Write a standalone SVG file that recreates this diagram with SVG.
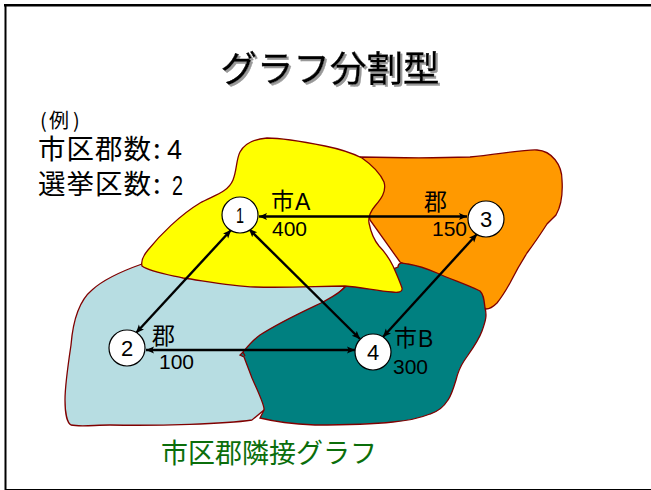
<svg xmlns="http://www.w3.org/2000/svg" width="651" height="490" viewBox="0 0 651 490">
<style>
text{font-family:"Noto Sans CJK JP","Liberation Sans",sans-serif;fill:#000}
.lat{font-family:"Liberation Sans","Noto Sans CJK JP",sans-serif}
.region{stroke:#800000;stroke-width:1.3}
.edge{stroke:#000;stroke-width:2.4;fill:none;marker-start:url(#ah);marker-end:url(#ah)}
.node circle{fill:#fff;stroke:#000;stroke-width:1.2}
.node text{font-size:22px;text-anchor:middle}
.lbl{font-size:23px}
.num{font-size:21px}
.big{font-size:23px}
.t{font-size:27.500px;letter-spacing:1px}
</style>
<defs>
<marker id="ah" viewBox="0 0 10 10" refX="9" refY="5" markerUnits="userSpaceOnUse" markerWidth="9" markerHeight="9" orient="auto-start-reverse"><path d="M0,1 L9,5 L0,9 L2,5 Z" fill="#000"/></marker>
<filter id="sh" x="-5%" y="-10%" width="110%" height="125%"><feDropShadow dx="2" dy="2" stdDeviation="0.6" flood-color="#999"/></filter>
</defs>
<rect width="651" height="490" fill="#fff"/>
<rect x="4" y="4" width="647" height="2.500" fill="#000"/>
<rect x="4.500" y="4" width="2" height="485" fill="#000"/>
<rect x="4.500" y="489" width="646.500" height="1" fill="#000"/>
<g id="title"><text x="220.500" y="81.500" font-size="36.500" stroke="#000" stroke-width="0.4" filter="url(#sh)">グラフ分割型</text></g>
<g id="example">
<text y="128" font-size="20"><tspan x="40">(</tspan><tspan x="49">例</tspan><tspan x="73">)</tspan></text>
<text x="38" y="159" class="t">市区郡数</text><text x="153" y="159" class="t">:</text><text x="167" y="159" class="lat" font-size="27">4</text>
<text x="38" y="194" class="t">選挙区数</text><text x="153" y="194" class="t">:</text><text x="172" y="195" class="lat" font-size="27" textLength="11" lengthAdjust="spacingAndGlyphs">2</text>
</g>
<g id="regions">
<path id="region-3" class="region" fill="#ff9900" d="M360,157 C400,158 440,158 470,157 C495,155 525,149 537,150 C552,151 562,165 562,180 C563,195 560,208 556,215 L547,224 C538,238 533,245 527,253 C520,264 515,273 510,283 C505,292 501,298 497,303 C493,307 490,309 486,309 L440,280 L400,262 L370,220 Z"/>
<path id="region-2" class="region" fill="#b7dde2" d="M142,264 C125,270 105,278 92,290 C80,300 73,320 71,345 C68,365 65,385 65,400 C65,412 67,423 71,425 C80,427 95,425 110,425 C160,426 225,424 252,420 L264,410 L300,330 L346,286 L200,260 Z"/>
<path id="region-4" class="region" fill="#008080" d="M398,267 C398,262 402,263 408,264 C420,266 430,270 437,273 C450,279 468,285 480,291 C484,295 484,300 485,308 C487,315 486,320 482,331 C478,342 470,352 464,361 C460,367 458,372 456,380 C453,390 451,396 448,400 C443,408 437,412 430,414 C420,418 405,421 393,422 C375,424 335,425 315,425 C295,424 272,421 260,418 L264,410 C265,406 258,392 252,378 L244,357 L240,355 L243,352 L245,356 L243,352 C249,345 253,340 260,335 C280,322 300,313 323,302 C332,297 340,293 345,287 Z"/>
<path id="region-1" class="region" fill="#ffff00" d="M142,266 C141,262 143,256 148,250 C160,235 180,215 200,203 C215,195 228,192 233,180 C237,170 236,160 240,152 C245,143 253,139 267,138 C285,138 305,142 325,146 C340,149 352,153 362,158 C372,165 380,173 384,182 C387,192 380,200 375,206 C370,212 368,217 369,223 C371,233 374,240 379,246 C385,252 389,258 393,266 C397,275 400,282 402,288 C403,292 398,293 392,292 C378,291 360,287 345,286 C320,286 290,288 255,287 C230,286 205,281 183,278 C170,275 150,272 142,266 Z"/>
</g>
<g id="connectors">
<line class="edge" x1="259" y1="216.500" x2="467" y2="216.500"/>
<line class="edge" x1="231" y1="230" x2="136" y2="333"/>
<line class="edge" x1="249" y1="229" x2="360" y2="339"/>
<line class="edge" x1="146" y1="350" x2="355" y2="350"/>
<line class="edge" x1="383" y1="337" x2="477" y2="234"/>
</g>
<g id="labels">
<text x="271" y="209" class="lbl">市</text><text x="295" y="210" class="lat big">A</text>
<text x="272" y="236" class="lat num">400</text>
<text x="424" y="210" class="lbl">郡</text>
<text x="432" y="236" class="lat num">150</text>
<text x="152" y="344" class="lbl">郡</text>
<text x="159" y="369" class="lat num">100</text>
<text x="394" y="346" class="lbl">市</text><text x="418" y="347" class="lat big">B</text>
<text x="393" y="374" class="lat num">300</text>
</g>
<g id="node-1" class="node"><circle cx="240" cy="215" r="18"/><text x="240" y="223" class="lat" textLength="8" lengthAdjust="spacingAndGlyphs">1</text></g>
<g id="node-2" class="node"><circle cx="127" cy="348" r="18"/><text x="127" y="356" class="lat">2</text></g>
<g id="node-3" class="node"><circle cx="486" cy="219" r="18"/><text x="486" y="227" class="lat">3</text></g>
<g id="node-4" class="node"><circle cx="373" cy="352" r="18"/><text x="373" y="360" class="lat">4</text></g>
<text id="caption" x="161" y="463" font-size="27" style="fill:#0b6e0b">市区郡隣接グラフ</text>
</svg>
